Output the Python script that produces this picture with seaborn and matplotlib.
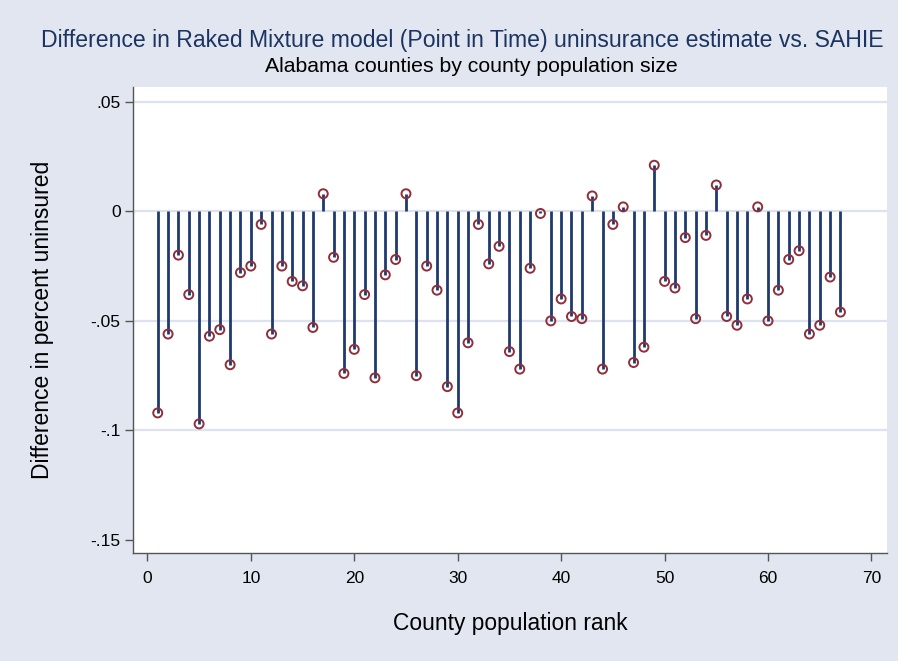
import matplotlib
matplotlib.use("Agg")
import matplotlib.pyplot as plt
import seaborn as sns
import pandas as pd
import numpy as np

rank = list(range(1, 68))
diff = [
    -0.092, -0.056, -0.020, -0.038, -0.097, -0.057, -0.054, -0.070, -0.028, -0.025,
    -0.006, -0.056, -0.025, -0.032, -0.034, -0.053, 0.008, -0.021, -0.074, -0.063,
    -0.038, -0.076, -0.029, -0.022, 0.008, -0.075, -0.025, -0.036, -0.080, -0.092,
    -0.060, -0.006, -0.024, -0.016, -0.064, -0.072, -0.026, -0.001, -0.050, -0.040,
    -0.048, -0.049, 0.007, -0.072, -0.006, 0.002, -0.069, -0.062, 0.021, -0.032,
    -0.035, -0.012, -0.049, -0.011, 0.012, -0.048, -0.052, -0.040, 0.002, -0.050,
    -0.036, -0.022, -0.018, -0.056, -0.052, -0.030, -0.046,
]
yticks = [-0.15, -0.1, -0.05, 0, 0.05]
ytick_labels = ["-.15", "-.1", "-.05", "0", ".05"]
xticks = [0, 10, 20, 30, 40, 50, 60, 70]

df = pd.DataFrame({"rank": rank, "diff": diff})

sns.set_style("white")
plt.rcParams["font.family"] = ["Liberation Sans", "DejaVu Sans"]

BG = "#E1E6F0"
NAVY = "#1F3A6E"
MAROON = "#8E2F3A"
GRID = "#DDE3EE"

fig = plt.figure(figsize=(8.98, 6.61), dpi=100, facecolor=BG)
ax = fig.add_axes([133 / 898, 1 - 553 / 661, (887 - 133) / 898, (553 - 87) / 661])
ax.set_facecolor("white")

for yv in [0.05, 0, -0.05, -0.1]:
    ax.axhline(yv, color=GRID, lw=1.6, zorder=0)

ax.vlines(df["rank"], 0, df["diff"], color=NAVY, lw=2.0, zorder=2)
sns.scatterplot(data=df, x="rank", y="diff", ax=ax, marker="o", s=42,
                facecolor="none", edgecolor=MAROON, linewidth=1.4, zorder=3)

ax.set_xlim(-1.39, 71.5)
ax.set_ylim(-0.1559, 0.0567)
ax.set_xticks(xticks)
ax.set_xticklabels([str(t) for t in xticks])
ax.set_yticks(yticks)
ax.set_yticklabels(ytick_labels)

for s in ["top", "right"]:
    ax.spines[s].set_visible(False)
for s in ["left", "bottom"]:
    ax.spines[s].set_color("#555555")
    ax.spines[s].set_linewidth(1.0)

ax.tick_params(axis="both", which="major", direction="out", length=6, width=1.0,
               color="#555555", labelsize=12.5, labelcolor="black", pad=7,
               left=True, bottom=True)
ax.tick_params(axis="y", pad=3)

ax.set_xlabel("County population rank", fontsize=16.4, color="black", labelpad=19)
ax.set_ylabel("Difference in percent uninsured", fontsize=16.5, color="black", labelpad=26)

fig.text(462 / 898, 1 - 41 / 661, "Difference in Raked Mixture model (Point in Time) uninsurance estimate vs. SAHIE",
         ha="center", va="center", fontsize=16.6, color="#1C3461")
fig.text(471 / 898, 1 - 66 / 661, "Alabama counties by county population size",
         ha="center", va="center", fontsize=15.3, color="black")

fig.savefig("out.png", dpi=100, facecolor=BG)
